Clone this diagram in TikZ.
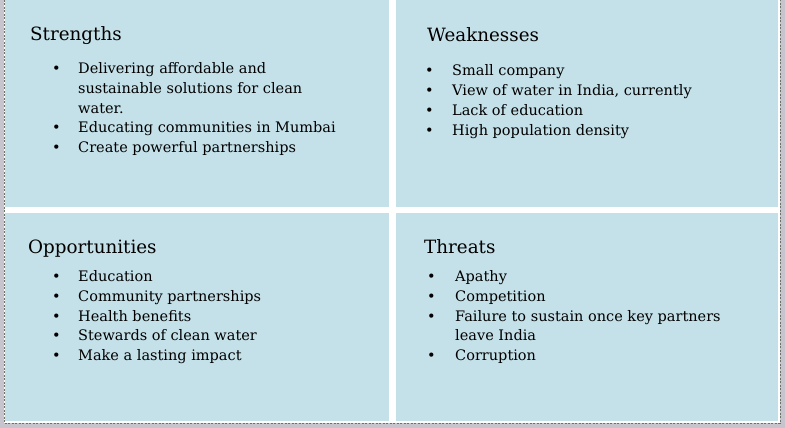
\documentclass[tikz,border=0pt]{standalone}
\usepackage{fontspec}
\setmainfont{DejaVu Serif}
\definecolor{panelblue}{RGB}{196,224,232}
\definecolor{pagegray}{RGB}{200,196,206}
\definecolor{framedash}{RGB}{105,115,105}
\newcommand{\swotlist}[2]{\begin{tabular}[t]{@{}p{#1}@{}l@{}}#2\end{tabular}}
\newcommand{\bul}{\textbullet}

\begin{document}
\begin{tikzpicture}[x=1pt,y=-1pt,
  panel/.style={fill=panelblue, draw=none, inner sep=0pt, anchor=north west,
    minimum width=383.5pt, minimum height=207pt},
  heading/.style={anchor=base west, inner sep=0pt, font=\fontsize{18.3}{22}\selectfont},
  itemlist/.style={anchor=base west, inner sep=0pt, font=\fontsize{14.5}{19.8}\selectfont},
]
% page and dashed frame
\useasboundingbox (0,0) rectangle (785,428);
\fill[pagegray] (0,0) rectangle (785,428);
\fill[white] (4,0) rectangle (780,423);
\draw[framedash, line width=0.8pt, dash pattern=on 2pt off 1.5pt]
  (4,0) -- (4,423) -- (780,423) -- (780,0);

% the four panels
\node[panel] (S) at (5,0) {};
\node[panel, minimum width=382pt] (W) at (396,0) {};
\node[panel, minimum height=208pt] (O) at (5,213) {};
\node[panel, minimum width=382pt, minimum height=208pt] (T) at (396,213) {};

% Strengths
\node[heading] (S-title) at (30,41) {Strengths};
\node[itemlist] (S-list) at (52,73.5) {\swotlist{26pt}{%
  \bul & Delivering affordable and\\
       & sustainable solutions for clean\\
       & water.\\
  \bul & Educating communities in Mumbai\\
  \bul & Create powerful partnerships}};

% Weaknesses
\node[heading] (W-title) at (427,42) {Weaknesses};
\node[itemlist] (W-list) at (425,76) {\swotlist{27pt}{%
  \bul & Small company\\
  \bul & View of water in India, currently\\
  \bul & Lack of education\\
  \bul & High population density}};

% Opportunities
\node[heading] (O-title) at (28,253) {Opportunities};
\node[itemlist] (O-list) at (52,281.5) {\swotlist{26pt}{%
  \bul & Education\\
  \bul & Community partnerships\\
  \bul & Health benefits\\
  \bul & Stewards of clean water\\
  \bul & Make a lasting impact}};

% Threats
\node[heading] (T-title) at (424,253) {Threats};
\node[itemlist] (T-list) at (427,281.5) {\swotlist{28pt}{%
  \bul & Apathy\\
  \bul & Competition\\
  \bul & Failure to sustain once key partners\\
       & leave India\\
  \bul & Corruption}};
\end{tikzpicture}
\end{document}
